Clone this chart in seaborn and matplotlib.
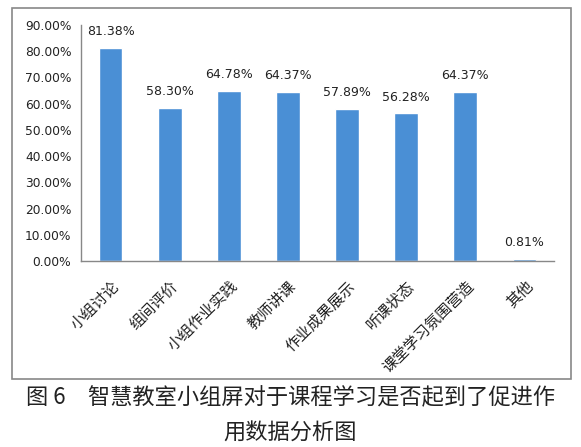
import matplotlib
matplotlib.use("Agg")
import matplotlib.pyplot as plt
import matplotlib.patches as mpatches
from matplotlib.ticker import PercentFormatter
import pandas as pd
import seaborn as sns

categories = ["小组讨论", "组间评价", "小组作业实践", "教师讲课",
              "作业成果展示", "听课状态", "课堂学习氛围营造", "其他"]
values = [81.38, 58.30, 64.78, 64.37, 57.89, 56.28, 64.37, 0.81]
yticks = [0, 10, 20, 30, 40, 50, 60, 70, 80, 90]
caption = ["图 6　智慧教室小组屏对于课程学习是否起到了促进作", "用数据分析图"]

df = pd.DataFrame({"category": categories, "value": values})

sns.set_style("white")
plt.rcParams["font.family"] = ["Noto Sans CJK SC", "DejaVu Sans"]

fig = plt.figure(figsize=(5.81, 4.47), dpi=100)
ax = fig.add_axes([81 / 581, 1 - 261 / 447, (554 - 81) / 581, (261 - 25) / 447])

sns.barplot(data=df, x="category", y="value", color="#4a8fd5",
            saturation=1, width=0.4, ax=ax)

n = len(categories)
ax.set_ylim(0, 90)
ax.set_xlim(-0.5, n - 0.5)
ax.set_yticks(yticks)
ax.yaxis.set_major_formatter(PercentFormatter(decimals=2))
# tick marks sit between categories, labels under each bar
ax.set_xticks([i - 0.5 for i in range(n + 1)], minor=False)
ax.set_xticklabels([])
ax.set_xticks(range(n), minor=True)
ax.set_xticklabels(categories, minor=True, rotation=45, ha="right",
                   rotation_mode="anchor", fontsize=11, color="#222222")
ax.tick_params(axis="x", which="minor", length=0, pad=12)
ax.tick_params(axis="x", which="major", length=4, color="#888888", direction="out")
ax.tick_params(axis="y", length=4, color="#888888", direction="out", pad=3)
for lab in ax.get_yticklabels():
    lab.set_fontfamily("DejaVu Sans")
    lab.set_fontsize(8.8)
    lab.set_color("#222222")
ax.set_xlabel("")
ax.set_ylabel("")
sns.despine(ax=ax)
for s in ["left", "bottom"]:
    ax.spines[s].set_color("#888888")
    ax.spines[s].set_linewidth(1)

for i, v in enumerate(values):
    ax.annotate(f"{v:.2f}%", (i, v), xytext=(0, 7), textcoords="offset points",
                ha="center", va="bottom", fontsize=9, color="#222222",
                family="DejaVu Sans")

fig.patches.append(mpatches.Rectangle(
    (12 / 581, 1 - 379 / 447), (571 - 12) / 581, (379 - 8) / 447,
    transform=fig.transFigure, fill=False, edgecolor="#888888", linewidth=1.2))

fig.text(0.5, 1 - 398 / 447, caption[0], ha="center", va="center",
         fontsize=16, color="#222222")
fig.text(0.5, 1 - 433 / 447, caption[1], ha="center", va="center",
         fontsize=16, color="#222222")

fig.savefig("out.png", dpi=100)
